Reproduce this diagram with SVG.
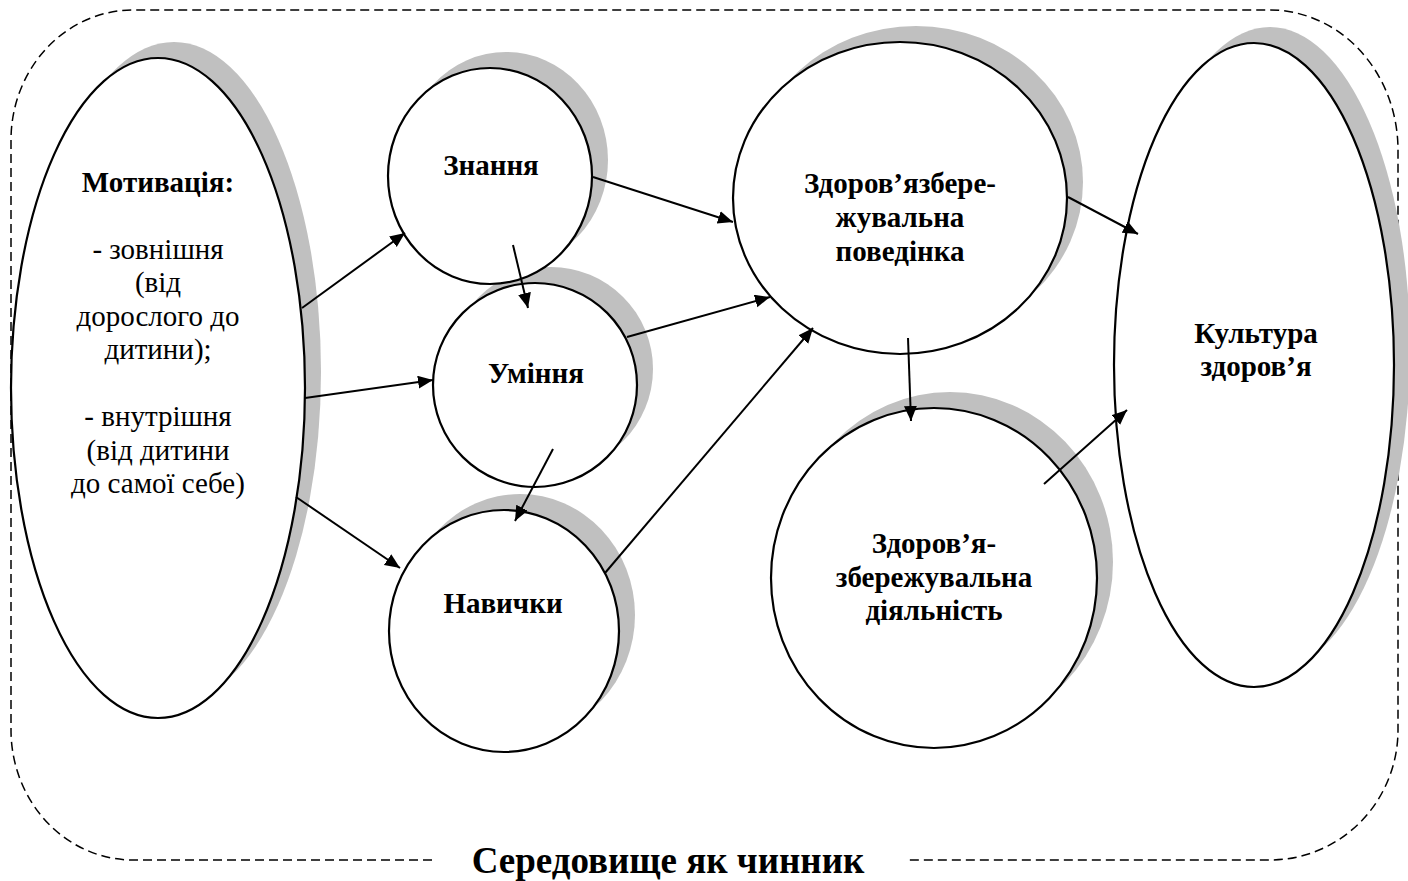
<svg xmlns="http://www.w3.org/2000/svg" width="1408" height="881" viewBox="0 0 1408 881">
<style>
.sh{fill:#c0c0c0;stroke:none}
.nd{fill:#fff;stroke:#000;stroke-width:2.2}
.b{font-family:"Liberation Serif","Times New Roman",serif;font-weight:bold;font-size:29px;text-anchor:middle;fill:#000}
.r{font-family:"Liberation Serif","Times New Roman",serif;font-size:29px;text-anchor:middle;fill:#000}
.ar{stroke:#000;stroke-width:2;fill:none;marker-end:url(#ah)}
.env{fill:none;stroke:#000;stroke-width:1.5;stroke-dasharray:9 5}
</style>
<defs>
<marker id="ah" markerUnits="userSpaceOnUse" markerWidth="16" markerHeight="14" refX="15" refY="6.5" orient="auto">
<path d="M0,0 L15,6.5 L0,13 Z" fill="#000"/>
</marker>
</defs>
<rect width="1408" height="881" fill="#fff"/>
<g id="environment">
<path class="env" d="M432,860 H133 A122,130 0 0 1 11,730 V140 A122,130 0 0 1 133,10 H1270 A128,140 0 0 1 1398,150 V730 A128,130 0 0 1 1270,860 H905"/>
<text class="b" x="668" y="873" style="font-size:37px">Середовище як чинник</text>
</g>
<g id="shadows">
<ellipse class="sh" cx="174" cy="372" rx="147" ry="330"/>
<ellipse class="sh" cx="506" cy="160" rx="102" ry="108"/>
<ellipse class="sh" cx="551" cy="369" rx="102" ry="102"/>
<ellipse class="sh" cx="520" cy="615" rx="115" ry="121"/>
<ellipse class="sh" cx="916" cy="182" rx="167" ry="156"/>
<ellipse class="sh" cx="950" cy="562" rx="163" ry="170"/>
<ellipse class="sh" cx="1270" cy="349" rx="140" ry="322"/>
</g>
<g id="motivation">
<ellipse class="nd" cx="158" cy="388" rx="147" ry="330"/>
<text class="b" x="158" y="192">Мотивація:</text>
<text class="r" x="158" y="259">- зовнішня</text>
<text class="r" x="158" y="292">(від</text>
<text class="r" x="158" y="326">дорослого до</text>
<text class="r" x="158" y="359">дитини);</text>
<text class="r" x="158" y="426">- внутрішня</text>
<text class="r" x="158" y="460">(від дитини</text>
<text class="r" x="158" y="493">до самої себе)</text>
</g>
<g id="knowledge">
<ellipse class="nd" cx="490" cy="176" rx="102" ry="108"/>
<text class="b" x="491" y="175">Знання</text>
</g>
<g id="abilities">
<ellipse class="nd" cx="535" cy="385" rx="102" ry="102"/>
<text class="b" x="536" y="383">Уміння</text>
</g>
<g id="skills">
<ellipse class="nd" cx="504" cy="631" rx="115" ry="121"/>
<text class="b" x="503" y="613">Навички</text>
</g>
<g id="behavior">
<ellipse class="nd" cx="900" cy="198" rx="167" ry="156"/>
<text class="b" x="900" y="193">Здоров’язбере-</text>
<text class="b" x="900" y="227">жувальна</text>
<text class="b" x="900" y="261">поведінка</text>
</g>
<g id="activity">
<ellipse class="nd" cx="934" cy="578" rx="163" ry="170"/>
<text class="b" x="934" y="553">Здоров’я-</text>
<text class="b" x="934" y="587">збережувальна</text>
<text class="b" x="934" y="620">діяльність</text>
</g>
<g id="culture">
<ellipse class="nd" cx="1254" cy="365" rx="140" ry="322"/>
<text class="b" x="1256" y="343">Культура</text>
<text class="b" x="1256" y="376">здоров’я</text>
</g>
<g id="connectors">
<line class="ar" x1="302" y1="308" x2="405" y2="233"/>
<line class="ar" x1="305" y1="398" x2="433" y2="380"/>
<line class="ar" x1="296" y1="497" x2="400" y2="568"/>
<line class="ar" x1="513" y1="245" x2="528" y2="308"/>
<line class="ar" x1="553" y1="449" x2="515" y2="521"/>
<line class="ar" x1="593" y1="177" x2="733" y2="222"/>
<line class="ar" x1="627" y1="337" x2="770" y2="297"/>
<line class="ar" x1="605" y1="573" x2="813" y2="328"/>
<line class="ar" x1="1068" y1="197" x2="1138" y2="234"/>
<line class="ar" x1="908" y1="338" x2="911" y2="421"/>
<line class="ar" x1="1044" y1="484" x2="1127" y2="410"/>
</g>
</svg>
